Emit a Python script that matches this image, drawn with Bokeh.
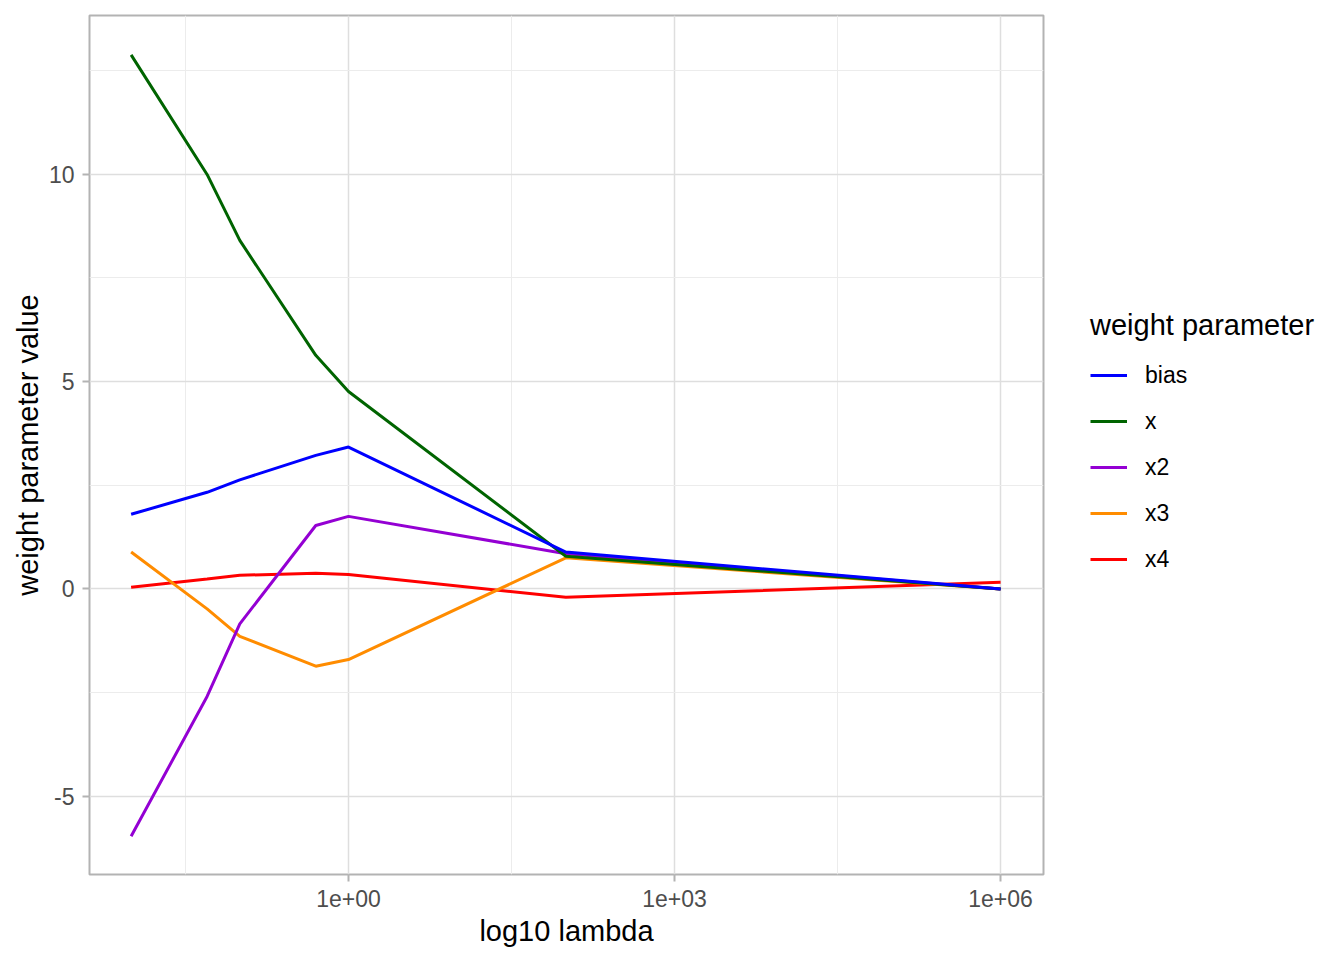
from bokeh.plotting import figure
from bokeh.models import Range1d, FixedTicker, Legend, LegendItem
from bokeh.embed import file_html
from bokeh.resources import INLINE

# ridge path: weight parameters against lambda
lambdas = [0.01, 0.05, 0.1, 0.5, 1, 100, 1e6]
bias = [1.80, 2.33, 2.63, 3.22, 3.42, 0.89, 0.0]
x1 = [12.87, 9.99, 8.40, 5.63, 4.76, 0.79, 0.0]
x2 = [-5.96, -2.59, -0.84, 1.53, 1.75, 0.85, 0.0]
x3 = [0.89, -0.48, -1.14, -1.86, -1.70, 0.75, 0.0]
x4 = [0.04, 0.24, 0.33, 0.38, 0.35, -0.20, 0.16]

names = ["bias", "x", "x2", "x3", "x4"]
series = [bias, x1, x2, x3, x4]
colors = ["#0000FF", "#006400", "#9400D3", "#FF8C00", "#FF0000"]

x_ticks = [1, 1000, 1000000]
x_tick_labels = ["1e+00", "1e+03", "1e+06"]
x_minor = [10 ** -1.5, 10 ** 1.5, 10 ** 4.5]
y_ticks = [-5, 0, 5, 10]
y_tick_labels = ["-5", "0", "5", "10"]
y_minor = [-2.5, 2.5, 7.5, 12.5]

FONT = "Liberation Sans"

p = figure(
    frame_width=954,
    frame_height=859,
    x_axis_type="log",
    x_range=Range1d(10 ** -2.383, 10 ** 6.395),
    y_range=Range1d(-6.88, 13.82),
    x_axis_label="log10 lambda",
    y_axis_label="weight parameter value",
    output_backend="svg",
    toolbar_location=None,
    min_border_left=89,
    min_border_right=0,
    min_border_top=15,
    min_border_bottom=70,
)
p.background_fill_color = "white"
p.border_fill_color = "white"
p.outline_line_color = "#b3b3b3"
p.outline_line_width = 2

xt = FixedTicker(ticks=x_ticks, minor_ticks=x_minor)
yt = FixedTicker(ticks=y_ticks, minor_ticks=y_minor)
p.xaxis.ticker = xt
p.yaxis.ticker = yt
p.xgrid.ticker = xt
p.ygrid.ticker = yt
p.xaxis.major_label_overrides = dict(zip(x_ticks, x_tick_labels))
p.yaxis.major_label_overrides = dict(zip(y_ticks, y_tick_labels))

for g in (p.xgrid, p.ygrid):
    g.grid_line_color = "#dedede"
    g.grid_line_width = 1.5
    g.minor_grid_line_color = "#ececec"
    g.minor_grid_line_width = 1

for ax in (p.xaxis, p.yaxis):
    ax.axis_line_color = None
    ax.major_tick_line_color = "#b3b3b3"
    ax.major_tick_line_width = 2
    ax.major_tick_out = 7
    ax.major_tick_in = 0
    ax.minor_tick_line_color = None
    ax.major_label_text_font = FONT
    ax.major_label_text_font_size = "23px"
    ax.major_label_text_color = "#4d4d4d"
    ax.axis_label_text_font = FONT
    ax.axis_label_text_font_size = "29px"
    ax.axis_label_text_font_style = "normal"
    ax.axis_label_text_color = "black"
p.xaxis.major_label_standoff = 8
p.xaxis.axis_label_standoff = 5
p.yaxis.major_label_standoff = 8
p.yaxis.axis_label_standoff = 2

renderers = {}
for name, ys, color in reversed(list(zip(names, series, colors))):
    renderers[name] = p.line(lambdas, ys, line_color=color, line_width=3)

legend = Legend(
    items=[LegendItem(label=n, renderers=[renderers[n]]) for n in names],
    location=(47, 300),
    title="weight parameter",
    title_text_font=FONT,
    title_text_font_size="29px",
    title_text_font_style="normal",
    title_text_color="black",
    title_standoff=18,
    label_text_font=FONT,
    label_text_font_size="23px",
    label_text_color="black",
    glyph_width=37,
    glyph_height=30,
    label_height=30,
    spacing=16,
    label_standoff=18,
    padding=0,
    margin=0,
    border_line_color=None,
    background_fill_alpha=0,
)
p.add_layout(legend, "right")

open("out.html", "w").write(file_html(p, INLINE))
